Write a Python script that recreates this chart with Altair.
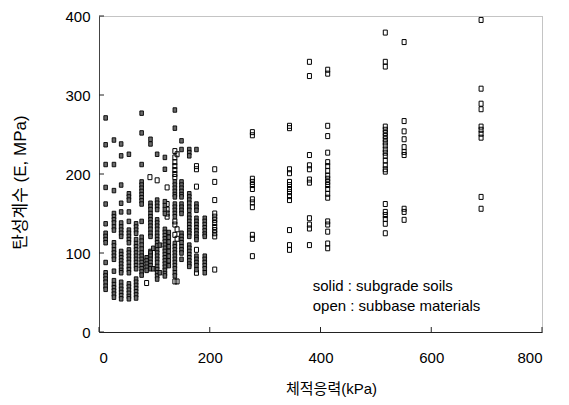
import altair as alt
import pandas as pd

# ---- data: bulk stress (kPa) -> resilient modulus (MPa)
# solid markers: subgrade soils (grouped by bulk-stress column)
solid_cols = [
    (12, [271, 237, 212, 183, 162, 137, 125, 121, 117, 113, 88, 75, 71, 67, 63, 58, 54]),
    (27, [243, 212, 179, 150, 146, 142, 138, 133, 129, 113, 109, 104, 100, 96, 92, 77, 65, 60, 56, 52, 48, 44]),
    (40, [238, 223, 186, 163, 152, 138, 133, 129, 125, 121, 102, 98, 94, 90, 86, 82, 78, 75, 63, 58, 54, 50, 46, 42]),
    (54, [225, 175, 171, 167, 152, 140, 129, 125, 121, 117, 113, 104, 100, 96, 92, 88, 83, 79, 75, 61, 57, 53, 49, 45, 42]),
    (67, [137, 133, 129, 125, 117, 112, 108, 104, 100, 96, 92, 88, 84, 80, 67, 63, 59, 55, 51, 47, 43]),
    (77, [277, 252, 212, 190, 186, 182, 178, 174, 170, 166, 162, 140, 120, 115, 110, 105, 100, 96, 92, 88, 84, 80, 76, 72]),
    (86, [94, 90, 86, 82, 78]),
    (93, [244, 238, 163, 159, 155, 150, 146, 142, 138, 134, 130, 125, 121, 102, 98, 100, 96, 92, 88, 84, 80]),
    (98, [106, 80]),
    (105, [225, 167, 163, 159, 155, 142, 138, 134, 130, 125, 121, 117, 113, 109, 104, 100, 96, 92, 88, 83, 79, 75, 71, 67]),
    (110, [75, 110]),
    (119, [221, 206, 165, 160, 155, 150, 130, 126, 122, 118, 114, 110, 106, 102, 98, 94, 90, 86, 82, 78, 74, 71]),
    (126, [126, 120, 114, 108, 102, 96, 90, 84]),
    (137, [281, 258, 190, 186, 182, 178, 174, 171, 162, 158, 154, 150, 146, 112, 108, 104, 100, 96, 92, 88, 84, 80, 75, 71]),
    (149, [242, 231, 190, 186, 182, 178, 174, 171, 162, 158, 154, 150, 125, 121, 117, 113, 108, 104, 100, 92]),
    (163, [231, 227, 223, 175, 171, 167, 163, 158, 154, 148, 144, 140, 136, 132, 128, 125, 121, 110, 106, 102, 98, 94, 90, 86, 83]),
    (176, [231, 162, 158, 154, 144, 140, 136, 132, 128, 124, 120, 117, 96, 92, 88, 84, 79]),
    (191, [144, 140, 136, 132, 128, 124, 121, 96, 92, 88, 84, 80, 75]),
]

# open markers: subbase materials
open_cols = [
    (86, [62]),
    (92, [196]),
    (105, [192]),
    (123, [183, 162, 155, 150, 146]),
    (137, [229, 221, 215, 210, 205, 200, 196, 140, 136, 123, 64]),
    (141, [225, 130, 118, 64]),
    (176, [210, 206, 184, 104, 75]),
    (209, [206, 190, 167, 150, 146, 142, 138, 133, 129, 125, 121, 79]),
    (277, [253, 249, 194, 190, 186, 181, 168, 164, 158, 123, 118, 96]),
    (344, [261, 258, 206, 201, 190, 186, 181, 177, 172, 167, 129, 110, 104]),
    (380, [342, 324, 224, 211, 206, 193, 189, 144, 136, 131, 110]),
    (413, [332, 327, 261, 248, 227, 215, 210, 204, 198, 194, 190, 186, 181, 175, 170, 140, 136, 127, 112, 106]),
    (517, [379, 342, 336, 260, 256, 252, 248, 244, 240, 236, 231, 227, 223, 217, 211, 206, 203, 162, 152, 148, 143, 137, 125]),
    (551, [367, 267, 254, 244, 234, 228, 224, 156, 152, 142]),
    (690, [395, 308, 289, 282, 260, 256, 251, 246, 171, 156]),
]

x_ticks = [0, 200, 400, 600, 800]
y_ticks = [0, 100, 200, 300, 400]

note_x = [386, 386]
note_y = [58, 33]
note_text = ["solid : subgrade soils", "open : subbase materials"]

x_title = "체적응력(kPa)"
y_title = "탄성계수 (E, MPa)"

# ---- build tables
solid_df = pd.DataFrame([(x, y) for x, ys in solid_cols for y in ys], columns=["x", "y"])
open_df = pd.DataFrame([(x, y) for x, ys in open_cols for y in ys], columns=["x", "y"])
notes_df = pd.DataFrame({"x": note_x, "y": note_y, "t": note_text})
xt_df = pd.DataFrame({"v": x_ticks})
yt_df = pd.DataFrame({"v": y_ticks})

FONT = "Liberation Sans, Arial, Noto Sans CJK KR"
W, H = 443, 316

xscale = alt.Scale(domain=[0, 800], nice=False, zero=False)
yscale = alt.Scale(domain=[0, 400], nice=False, zero=False)

xaxis = alt.Axis(values=x_ticks, ticks=False, tickSize=0, grid=False, labelPadding=18,
                 labelFontSize=15, labelFont=FONT, labelColor="black",
                 domainColor="#222", title=x_title, titleFont=FONT, titleFontSize=15,
                 titleFontWeight="normal", titleColor="black",
                 titleX=232, titleY=56, titleBaseline="middle", titleAlign="center")
yaxis = alt.Axis(values=y_ticks, ticks=False, tickSize=0, grid=False, labelPadding=9,
                 labelFontSize=15, labelFont=FONT, labelColor="black",
                 domainColor="#444", title=y_title, titleFont=FONT, titleFontSize=17,
                 titleFontWeight="normal", titleColor="black", titleAngle=-90,
                 titleX=-79, titleY=166, titleBaseline="middle", titleAlign="center")

SHAPE = "M-0.8,-1H0.8V1H-0.8Z"

open_pts = alt.Chart(open_df).mark_point(
    shape=SHAPE, size=25, filled=False, color="black", strokeWidth=1, opacity=1
).encode(
    x=alt.X("x:Q", scale=xscale, axis=xaxis),
    y=alt.Y("y:Q", scale=yscale, axis=yaxis),
)

solid_pts = alt.Chart(solid_df).mark_point(
    shape=SHAPE, size=20, filled=True, fill="#6a6a6a", stroke="black", strokeWidth=0.9, opacity=1
).encode(
    x=alt.X("x:Q", scale=xscale),
    y=alt.Y("y:Q", scale=yscale),
)

notes = alt.Chart(notes_df).mark_text(
    align="left", baseline="middle", fontSize=15, font=FONT, color="black"
).encode(
    x=alt.X("x:Q", scale=xscale),
    y=alt.Y("y:Q", scale=yscale),
    text="t:N",
)

xticks = alt.Chart(xt_df).mark_rule(color="#222", strokeWidth=1).encode(
    x=alt.X("v:Q", scale=xscale),
    y=alt.value(H),
    y2=alt.value(H - 5),
)
yticks = alt.Chart(yt_df).mark_rule(color="#222", strokeWidth=1).encode(
    y=alt.Y("v:Q", scale=yscale),
    x=alt.value(0),
    x2=alt.value(5),
)

chart = alt.layer(open_pts, solid_pts, notes, xticks, yticks).properties(
    width=W, height=H,
    padding={"left": 91, "top": 8, "right": 17, "bottom": 65},
    autosize=alt.AutoSizeParams(type="none"),
    background="white",
).configure_view(
    stroke="#888", strokeWidth=1, strokeDash=[1, 1]
)

chart.save("out.html", embed_options={"renderer": "svg", "actions": False})
